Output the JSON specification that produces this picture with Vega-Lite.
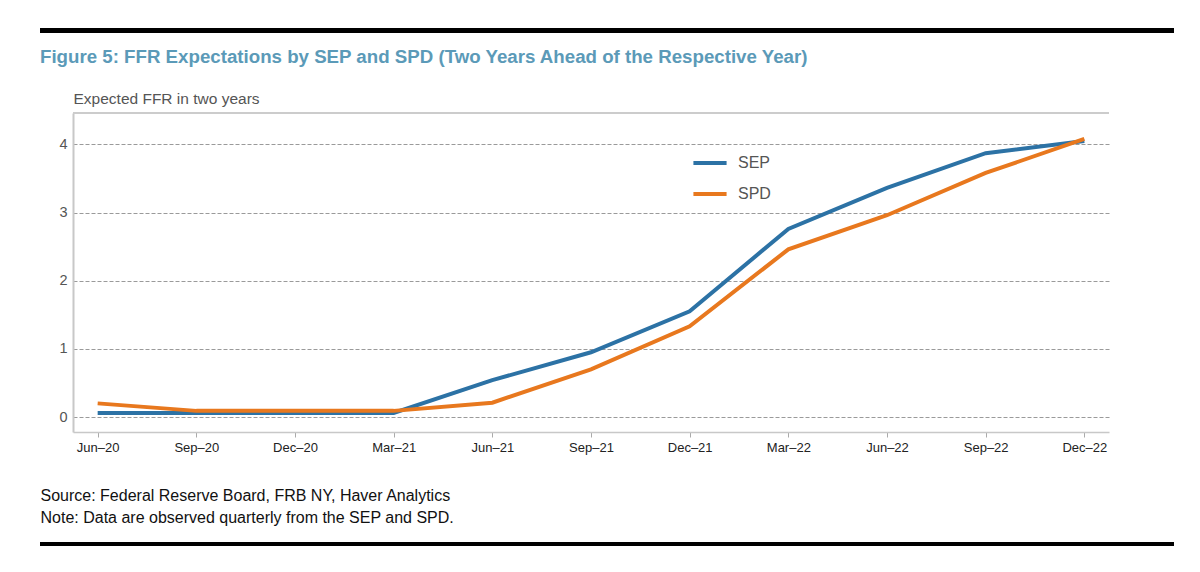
{
  "$schema": "https://vega.github.io/schema/vega-lite/v6.json",
  "autosize": {"type": "none"},
  "width": 1036,
  "height": 319,
  "padding": {"left": 73, "top": 113, "right": 91, "bottom": 140},
  "background": "white",
  "config": {
    "font": "Liberation Sans",
    "view": {"stroke": null}
  },
  "title": {
    "text": "Figure 5: FFR Expectations by SEP and SPD (Two Years Ahead of the Respective Year)",
    "anchor": "start",
    "frame": "group",
    "dx": -33,
    "dy": 53,
    "offset": 0,
    "fontSize": 18.7,
    "fontWeight": "bold",
    "color": "#5b9ab8",
    "baseline": "alphabetic"
  },
  "data": {
    "values": [
      {"date": "Jun–20", "series": "SEP", "value": 0.06},
      {"date": "Sep–20", "series": "SEP", "value": 0.06},
      {"date": "Dec–20", "series": "SEP", "value": 0.06},
      {"date": "Mar–21", "series": "SEP", "value": 0.06},
      {"date": "Jun–21", "series": "SEP", "value": 0.54},
      {"date": "Sep–21", "series": "SEP", "value": 0.95},
      {"date": "Dec–21", "series": "SEP", "value": 1.55},
      {"date": "Mar–22", "series": "SEP", "value": 2.76},
      {"date": "Jun–22", "series": "SEP", "value": 3.36},
      {"date": "Sep–22", "series": "SEP", "value": 3.87},
      {"date": "Dec–22", "series": "SEP", "value": 4.05},
      {"date": "Jun–20", "series": "SPD", "value": 0.2},
      {"date": "Sep–20", "series": "SPD", "value": 0.09},
      {"date": "Dec–20", "series": "SPD", "value": 0.09},
      {"date": "Mar–21", "series": "SPD", "value": 0.09},
      {"date": "Jun–21", "series": "SPD", "value": 0.21},
      {"date": "Sep–21", "series": "SPD", "value": 0.7},
      {"date": "Dec–21", "series": "SPD", "value": 1.33},
      {"date": "Mar–22", "series": "SPD", "value": 2.46},
      {"date": "Jun–22", "series": "SPD", "value": 2.96},
      {"date": "Sep–22", "series": "SPD", "value": 3.58},
      {"date": "Dec–22", "series": "SPD", "value": 4.08}
    ]
  },
  "resolve": {"scale": {"x": "independent"}},
  "layer": [
    {
      "mark": {"type": "rule", "color": "#cccccc", "strokeWidth": 2},
      "encoding": {
        "y": {"datum": 4.46, "type": "quantitative"}
      }
    },
    {
      "mark": {"type": "line", "strokeWidth": 4, "strokeCap": "butt"},
      "encoding": {
        "x": {
          "field": "date",
          "type": "ordinal",
          "sort": null,
          "scale": {"type": "point", "padding": 0.25},
          "axis": {
            "labelAngle": 0,
            "labelFontSize": 13,
            "labelColor": "#222222",
            "labelPadding": 4,
            "tickColor": "#aaaaaa",
            "tickSize": 5,
            "domainColor": "#c8c8c8",
            "domainWidth": 1.5,
            "grid": false,
            "title": ["Source: Federal Reserve Board, FRB NY, Haver Analytics", "Note: Data are observed quarterly from the SEP and SPD."],
            "titleFontSize": 16,
            "titleFontWeight": "normal",
            "titleColor": "#111111",
            "titleAnchor": "start",
            "titleAlign": "left",
            "titleBaseline": "alphabetic",
            "titleX": -33,
            "titleY": 68,
            "titleLineHeight": 22
          }
        },
        "y": {
          "field": "value",
          "type": "quantitative",
          "scale": {"domain": [-0.22, 4.46], "nice": false, "zero": false},
          "axis": {
            "values": [0, 1, 2, 3, 4],
            "format": "d",
            "grid": true,
            "gridDash": [4, 2],
            "gridColor": "#9a9a9a",
            "gridWidth": 1,
            "ticks": false,
            "labelPadding": 6,
            "labelFontSize": 14.5,
            "labelColor": "#555555",
            "domainColor": "#c8c8c8",
            "domainWidth": 2,
            "title": "Expected FFR in two years",
            "titleAngle": 0,
            "titleAlign": "left",
            "titleBaseline": "alphabetic",
            "titleX": 0,
            "titleY": -10,
            "titleFontSize": 15.5,
            "titleFontWeight": "normal",
            "titleColor": "#555555"
          }
        },
        "color": {
          "field": "series",
          "type": "nominal",
          "scale": {"domain": ["SEP", "SPD"], "range": ["#2c72a5", "#e8781e"]},
          "legend": {
            "title": null,
            "orient": "none",
            "legendX": 618,
            "legendY": 31,
            "symbolType": "stroke",
            "symbolSize": 1100,
            "symbolStrokeWidth": 4,
            "labelFontSize": 16,
            "labelColor": "#555555",
            "labelOffset": 9,
            "rowPadding": 4,
            "padding": 0
          }
        }
      }
    },
    {
      "mark": {"type": "rule", "color": "black", "strokeWidth": 4},
      "encoding": {
        "x": {"datum": 0, "type": "quantitative", "scale": {"domain": [0, 1], "range": [-33, 1101]}, "axis": null},
        "x2": {"datum": 1},
        "y": {"datum": 5.67, "type": "quantitative"}
      }
    },
    {
      "mark": {"type": "rule", "color": "black", "strokeWidth": 4},
      "encoding": {
        "x": {"datum": 0, "type": "quantitative", "scale": {"domain": [0, 1], "range": [-33, 1101]}, "axis": null},
        "x2": {"datum": 1},
        "y": {"datum": -1.863, "type": "quantitative"}
      }
    }
  ]
}
